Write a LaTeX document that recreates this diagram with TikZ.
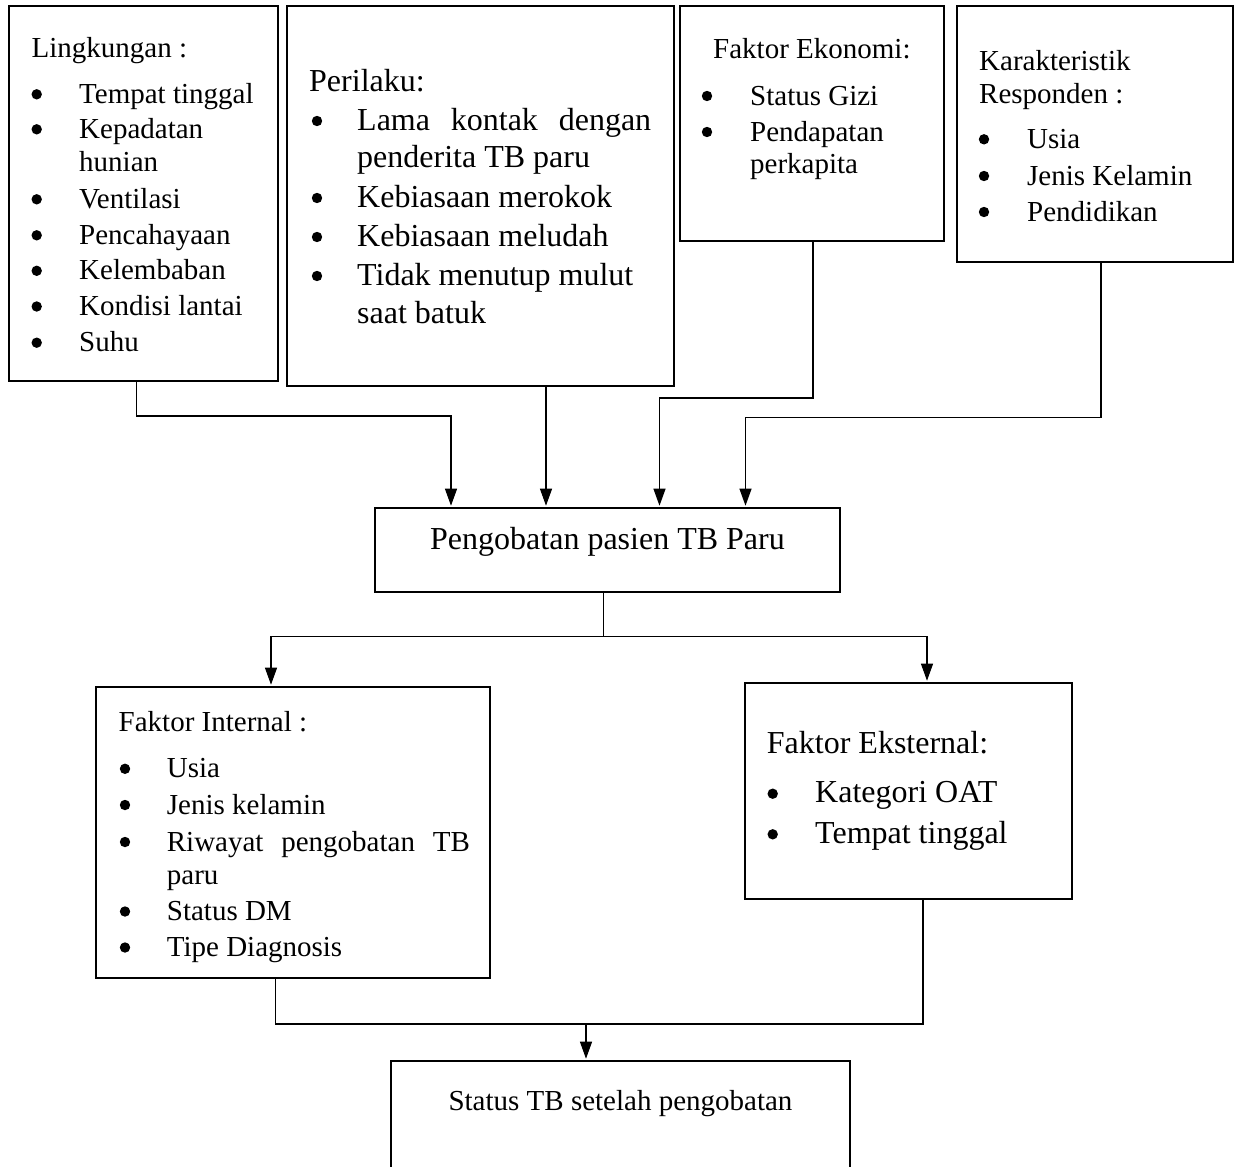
\documentclass[tikz,border=0pt]{standalone}
\usepackage{fontspec}
\setmainfont{Liberation Serif}
\usetikzlibrary{arrows.meta}
\tikzset{
  box/.style={draw, line width=2.6pt, rectangle, inner sep=0pt},
  conn/.style={line width=1.1pt},
  arr/.style={conn, -{Triangle[length=17pt,width=12pt]}, shorten >=1pt},
  txt/.style={inner sep=0pt, anchor=base west, font=\fontsize{29}{34}\selectfont},
  txtL/.style={inner sep=0pt, anchor=base west, font=\fontsize{32}{38}\selectfont},
  ctxt/.style={inner sep=0pt, anchor=base, font=\fontsize{29}{34}\selectfont},
  ctxtL/.style={inner sep=0pt, anchor=base, font=\fontsize{32}{38}\selectfont},
}
\newcommand\bul[2]{\fill (#1,#2-9) circle[radius=5.2pt];}
\begin{document}
\begin{tikzpicture}[x=1pt,y=-1pt]
\useasboundingbox (0,0) rectangle (1235,1167);
\clip (0,0) rectangle (1235,1167);

% ---------- boxes ----------
\node[box, minimum width=269pt, minimum height=375pt] (b1) at (143.5,193.5) {};
\node[box, minimum width=387pt, minimum height=380pt] (b2) at (480.5,196) {};
\node[box, minimum width=264pt, minimum height=235pt] (b3) at (812,123.5) {};
\node[box, minimum width=276pt, minimum height=256pt] (b4) at (1095,134) {};
\node[box, minimum width=465pt, minimum height=84pt] (b5) at (607.5,550) {};
\node[box, minimum width=394pt, minimum height=291pt] (b6) at (293,832.5) {};
\node[box, minimum width=327pt, minimum height=216pt] (b7) at (908.5,791) {};
\node[box, minimum width=459pt, minimum height=130pt] (b8) at (620.5,1126) {};

% ---------- Lingkungan ----------
\node[txt] (t1h) at (31.5,57.3) {Lingkungan :};
\bul{36.7}{103.3}\node[txt] (t1a) at (79,103.3) {Tempat tinggal};
\bul{36.7}{138.3}\node[txt] (t1b) at (79,138.3) {Kepadatan};
\node[txt] (t1c) at (79,171.7) {hunian};
\bul{36.7}{208.3}\node[txt] (t1d) at (79,208.3) {Ventilasi};
\bul{36.7}{244.3}\node[txt] (t1e) at (79,244.3) {Pencahayaan};
\bul{36.7}{279.8}\node[txt] (t1f) at (79,279.8) {Kelembaban};
\bul{36.7}{315.5}\node[txt] (t1g) at (79,315.5) {Kondisi lantai};
\bul{36.7}{351.7}\node[txt] (t1i) at (79,351.7) {Suhu};

% ---------- Perilaku ----------
\node[txtL] (t2h) at (309,91.7) {Perilaku:};
\bul{317}{130}\node[txtL] (t2a) at (357,130) {\hbox to 294pt{Lama\hfill kontak\hfill dengan}};
\node[txtL] (t2b) at (357,167.5) {penderita TB paru};
\bul{317}{207}\node[txtL] (t2c) at (357,207) {Kebiasaan merokok};
\bul{317}{246}\node[txtL] (t2d) at (357,246) {Kebiasaan meludah};
\bul{317}{285}\node[txtL] (t2e) at (357,285) {Tidak menutup mulut};
\node[txtL] (t2f) at (357,323) {saat batuk};

% ---------- Faktor Ekonomi ----------
\node[txt] (t3h) at (713,58.3) {Faktor Ekonomi:};
\bul{707}{105}\node[txt] (t3a) at (750,105) {Status Gizi};
\bul{707}{141}\node[txt] (t3b) at (750,141) {Pendapatan};
\node[txt] (t3c) at (750,173) {perkapita};

% ---------- Karakteristik ----------
\node[txt] (t4h) at (979,70) {Karakteristik};
\node[txt] (t4i) at (979,103.3) {Responden :};
\bul{984}{148.3}\node[txt] (t4a) at (1027,148.3) {Usia};
\bul{984}{185}\node[txt] (t4b) at (1027,185) {Jenis Kelamin};
\bul{984}{221}\node[txt] (t4c) at (1027,221) {Pendidikan};

% ---------- Pengobatan ----------
\node[ctxtL] (t5) at (607.5,549.3) {Pengobatan pasien TB Paru};

% ---------- Faktor Internal ----------
\node[txt] (t6h) at (118.5,731.7) {Faktor Internal :};
\bul{125}{777.8}\node[txt] (t6a) at (166.7,777.8) {Usia};
\bul{125}{814}\node[txt] (t6b) at (166.7,814) {Jenis kelamin};
\bul{125}{851}\node[txt] (t6c) at (166.7,851) {\hbox to 303pt{Riwayat\hfill pengobatan\hfill TB}};
\node[txt] (t6d) at (166.7,884) {paru};
\bul{125}{920.5}\node[txt] (t6e) at (166.7,920.5) {Status DM};
\bul{125}{956.5}\node[txt] (t6f) at (166.7,956.5) {Tipe Diagnosis};

% ---------- Faktor Eksternal ----------
\node[txtL] (t7h) at (766.7,753.3) {Faktor Eksternal:};
\bul{772.7}{802.7}\node[txtL] (t7a) at (815,802.7) {Kategori OAT};
\bul{772.7}{843.3}\node[txtL] (t7b) at (815,843.3) {Tempat tinggal};

% ---------- Status ----------
\node[ctxt] (t8) at (620.5,1110) {Status TB setelah pengobatan};

% ---------- connectors ----------
\coordinate (k1) at (136.5,416);
\coordinate (k1b) at (451,416);
\draw[arr] (b1.south -| k1) -- (k1) -- (k1b) -- (b5.north -| k1b);

\coordinate (k2) at (546,450);
\draw[arr] (b2.south -| k2) -- (b5.north -| k2);

\coordinate (k3) at (813,398);
\coordinate (k3b) at (659.5,398);
\draw[arr] (b3.south -| k3) -- (k3) -- (k3b) -- (b5.north -| k3b);

\coordinate (k4) at (1101,417.5);
\coordinate (k4b) at (745.5,417.5);
\draw[arr] (b4.south -| k4) -- (k4) -- (k4b) -- (b5.north -| k4b);

\coordinate (m) at (603.5,636.5);
\coordinate (mL) at (271,636.5);
\coordinate (mR) at (927,636.5);
\draw[conn] (b5.south -| m) -- (m);
\draw[arr] (m) -- (mL) -- (b6.north -| mL);
\draw[arr] (m) -- (mR) -- (b7.north -| mR);

\coordinate (nL) at (275.5,1024);
\coordinate (nR) at (923,1024);
\coordinate (n) at (586,1024);
\draw[conn] (b6.south -| nL) -- (nL) -- (nR) -- (b7.south -| nR);
\draw[arr] (n) -- (b8.north -| n);
\end{tikzpicture}
\end{document}
